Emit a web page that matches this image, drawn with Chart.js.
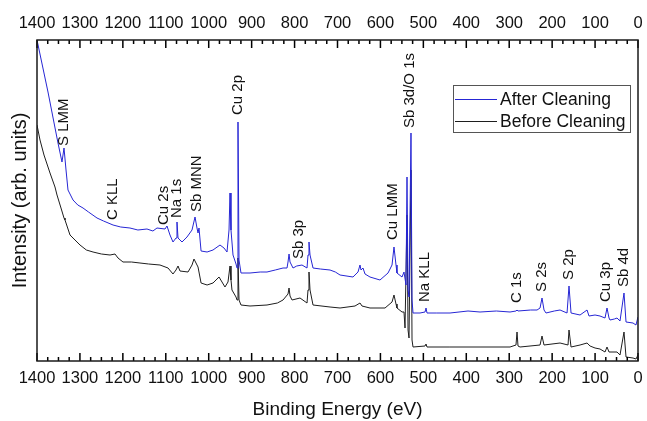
<!DOCTYPE html>
<html>
<head>
<meta charset="utf-8">
<script src="https://cdn.jsdelivr.net/npm/chart.js@4.4.1/dist/chart.umd.min.js"></script>
<style>
html,body{margin:0;padding:0;background:#fff;}
canvas{display:block;}
</style>
</head>
<body>
<canvas id="c" width="647" height="421" style="width:647px;height:421px"></canvas>
<script>
// Binding energy (eV) and intensity (arb. units)
const afterE = [1400,1374.4,1351.1,1341.8,1337.1,1332.4,1327.8,1316.1,1305,1292.8,1280,1260.2,1245,1222.9,1205,1183.4,1165,1143.8,1130,1120.5,1101.8,1097.2,1090.2,1083.2,1076.2,1073.9,1071.5,1062.2,1050.6,1038.9,1031.9,1027.3,1024.9,1022.6,1017.8,1003.8,990,973.7,964.4,957.4,952.7,950.4,948.1,943.4,936.4,934.1,931.8,929.4,924.8,903.8,880,864.2,845,826.9,817.6,815.3,812.9,810.6,803.6,795,782.7,771,768.7,766.4,764,757,740,717.4,705,694.1,663.9,652.2,647.6,645.2,640.6,635.9,624.3,601,582.3,573,568.4,563.7,561.4,549.7,545.1,540.4,538.1,535.7,533.4,528.8,526.4,524.1,507.8,496.1,493.8,491.5,470,437.9,396,368,330,298.1,284.2,281.8,279.5,250,235.2,228.2,223.6,218.9,214.3,195,181.6,165.3,160.7,156,135,118.7,114.1,100.1,88.5,76.8,72.2,67.5,65.2,55,48.9,41.9,32.6,27.9,11.6,4.7,0];
const afterI = [321,269,218,199,213,191,171,161,156,153,149,143,140,136,134,133,131,132,130,133,132,135,126,119,123,139,123,119,124,131,144,133,128,133,110,109,111,116,113,109,131,168,131,106,97,93,239,101,88,88,89,89,91,93,93,99,107,99,93,95,96,93,106,119,106,93,92,91,89,86,84,89,96,91,93,87,84,81,88,96,114,96,88,84,89,76,184,71,64,228,61,48,48,49,53,48,48,48,50,49,50,49,50,51,50,51,51,53,63,51,48,50,51,48,75,48,46,51,45,46,45,43,53,43,41,42,43,40,68,39,38,36,44];

const beforeE = [1400,1393,1383.7,1369.7,1358.1,1353.4,1344.1,1337.1,1334.8,1330.1,1323.1,1299.8,1285,1269.5,1250,1229.9,1218.3,1211.3,1199.7,1180,1160.1,1140,1113.5,1094.8,1083.2,1076.2,1071.5,1066.9,1048.2,1038.9,1034.3,1029.6,1024.9,1017.8,1003.8,990,976,962.1,955.1,950.4,948.1,945.8,936.4,934.1,931.8,929.4,924.8,903.8,864.2,840,826.9,815.3,812.9,810.6,805.9,787.3,771,768.7,766.4,764,757,717.4,694.1,659.2,647.6,642.9,624.3,589.3,573,568.4,563.7,561.4,549.7,545.1,542.7,538.1,535.7,533.4,528.8,526.4,524.1,496.1,493.8,491.5,440,368,298.1,284.2,281.8,279.5,274.8,228.2,223.6,218.9,181.6,163,160.7,156,135,118.7,111.7,100.1,88.5,76.8,72.2,67.5,48.9,41.9,32.6,27.9,11.6,4.7,0];
const beforeI = [236,221,206,188,174,166,153,143,141,135,126,116,111,109,107,106,107,103,99,99,98,97,96,93,87,91,95,90,89,96,102,98,94,78,76,78,84,74,79,95,81,71,64,61,103,61,56,55,56,58,61,67,73,65,61,63,58,71,89,71,56,54,53,55,58,55,53,53,59,66,57,53,49,49,33,146,31,23,191,21,14,15,17,14,14,14,14,16,29,15,14,16,25,16,18,16,31,14,16,18,15,13,12,9,14,9,9,6,29,4,3,2,6];

const seriesNames = ['After Cleaning','Before Cleaning'];
const xTickValues = [1400,1300,1200,1100,1000,900,800,700,600,500,400,300,200,100,0];
const xMinorStep = 25;

// Peak annotations: text, energy (eV), intensity at the start of the text
const peakLabels  = ['S LMM','C KLL','Cu 2s','Na 1s','Sb MNN','Cu 2p','Sb 3p','Cu LMM','Sb 3d/O 1s','Na KLL','C 1s','S 2s','S 2p','Cu 3p','Sb 4d'];
const peakEnergy  = [1337.1,1222.9,1104.2,1073.9,1027.3,931.8,789.7,570.7,531.1,496.1,281.8,223.6,160.7,74.5,32.6];
const peakLevel   = [215,141,136,143,149,246,102,121,233,59,58,69,81,59,74];

const FONT = '"Liberation Sans", Arial, Helvetica, sans-serif';
const BLUE = '#2626d4';
const BLACK = '#1e1e1e';

const toPts = (E, I) => E.map((e, i) => ({x: e, y: I[i]}));

const overlay = {
  id: 'overlay',
  afterDraw(chart) {
    const ctx = chart.ctx;
    const a = chart.chartArea;
    const xs = chart.scales.x, ys = chart.scales.y;
    ctx.save();
    // inward tick marks (every 25 eV, longer every 100 eV)
    ctx.strokeStyle = '#000';
    ctx.lineWidth = 1.5;
    ctx.beginPath();
    for (let v = 0; v <= 1400; v += xMinorStep) {
      const px = xs.getPixelForValue(v);
      const len = (v % 100 === 0) ? 8 : 4;
      ctx.moveTo(px, a.top);
      ctx.lineTo(px, a.top + len);
      ctx.moveTo(px, a.bottom);
      ctx.lineTo(px, a.bottom - len);
    }
    ctx.stroke();
    // frame
    ctx.lineWidth = 1.5;
    ctx.strokeStyle = '#1a1a1a';
    ctx.strokeRect(a.left, a.top, a.right - a.left, a.bottom - a.top);
    // peak labels
    ctx.fillStyle = '#111';
    ctx.font = '15px ' + FONT;
    ctx.textAlign = 'left';
    ctx.textBaseline = 'middle';
    peakLabels.forEach((t, i) => {
      const px = xs.getPixelForValue(peakEnergy[i]);
      const py = ys.getPixelForValue(peakLevel[i]);
      ctx.save();
      ctx.translate(px, py);
      ctx.rotate(-Math.PI / 2);
      ctx.fillText(t, 0, 0);
      ctx.restore();
    });
    // legend
    const lx = 453, ly = 85, lw = 177, lh = 47;
    ctx.fillStyle = '#fff';
    ctx.fillRect(lx, ly, lw, lh);
    ctx.lineWidth = 1;
    ctx.strokeStyle = '#555';
    ctx.strokeRect(lx + 0.5, ly + 0.5, lw, lh);
    const rows = [[seriesNames[0], BLUE, 99], [seriesNames[1], BLACK, 121]];
    ctx.font = '17.5px ' + FONT;
    rows.forEach(([t, c, y]) => {
      ctx.fillStyle = c;
      ctx.fillRect(455, y, 42, 1);
      ctx.fillStyle = '#111';
      ctx.fillText(t, 500, y + 1);
    });
    ctx.restore();
  }
};

const tickFont = {family: FONT, size: 16.5};
const noPad = s => { s.paddingLeft = 0; s.paddingRight = 0; };

new Chart(document.getElementById('c'), {
  type: 'line',
  data: {
    datasets: [
      {label: seriesNames[0], data: toPts(afterE, afterI), borderColor: BLUE, borderWidth: 1, pointRadius: 0, tension: 0, xAxisID: 'x', yAxisID: 'y'},
      {label: seriesNames[1], data: toPts(beforeE, beforeI), borderColor: BLACK, borderWidth: 1, pointRadius: 0, tension: 0, xAxisID: 'x', yAxisID: 'y'}
    ]
  },
  options: {
    responsive: false,
    animation: false,
    devicePixelRatio: 1,
    layout: {padding: {left: 0, right: 9, top: 0, bottom: 0}},
    plugins: {legend: {display: false}, tooltip: {enabled: false}},
    scales: {
      x: {
        type: 'linear', position: 'bottom', min: 0, max: 1400, reverse: true,
        grid: {display: false, drawTicks: false}, border: {display: false},
        afterBuildTicks: s => { s.ticks = xTickValues.map(v => ({value: v})); },
        ticks: {padding: 8, font: tickFont, color: '#111', maxRotation: 0, autoSkip: false, callback: v => String(v)},
        title: {display: true, text: 'Binding Energy (eV)', font: {family: FONT, size: 19}, color: '#111', padding: 0},
        afterFit: s => { s.height = 60; noPad(s); }
      },
      x2: {
        type: 'linear', position: 'top', min: 0, max: 1400, reverse: true,
        grid: {display: false, drawTicks: false}, border: {display: false},
        afterBuildTicks: s => { s.ticks = xTickValues.map(v => ({value: v})); },
        ticks: {padding: 7, font: tickFont, color: '#111', maxRotation: 0, autoSkip: false, callback: v => String(v)},
        afterFit: s => { s.height = 40; noPad(s); }
      },
      y: {
        min: 0, max: 321,
        grid: {display: false, drawTicks: false}, border: {display: false},
        ticks: {display: false},
        title: {display: true, text: 'Intensity (arb. units)', font: {family: FONT, size: 20}, color: '#111', padding: {top: 8, bottom: 0}},
        afterFit: s => { s.width = 37; }
      }
    }
  },
  plugins: [overlay]
});
</script>
</body>
</html>
